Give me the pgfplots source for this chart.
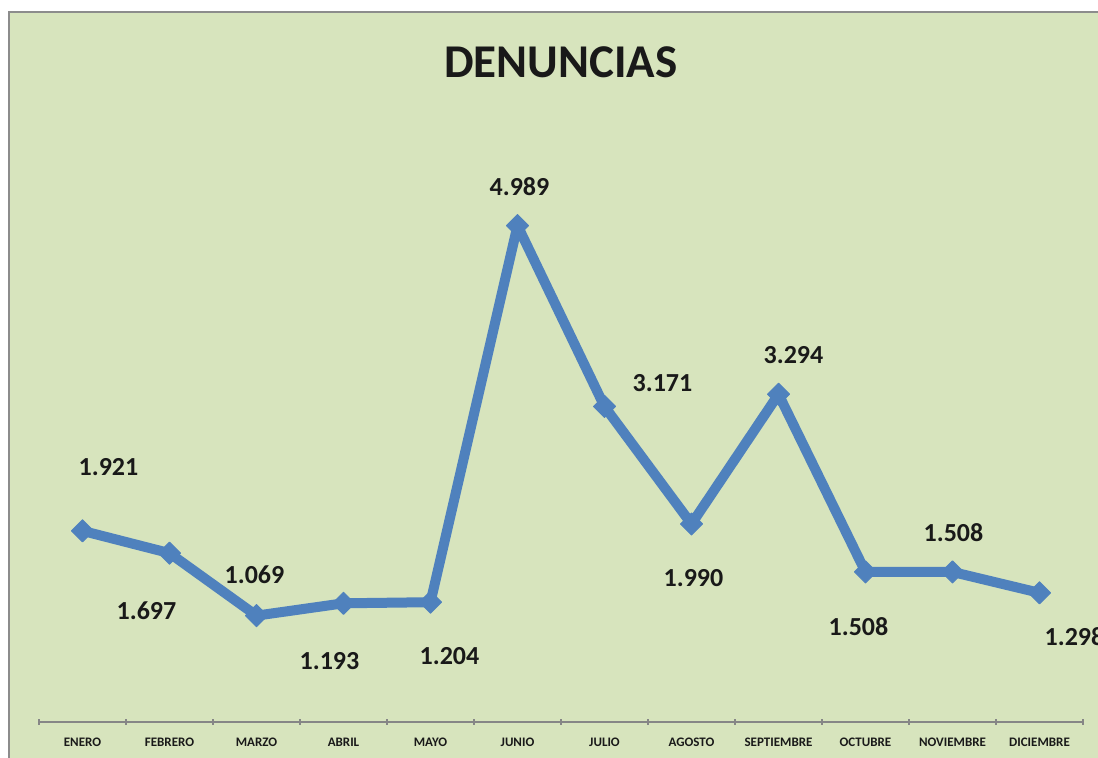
\documentclass[border=0pt]{standalone}
\usepackage{pgfplots}
\pgfplotsset{compat=1.18}
\usepackage{pgfplotstable}
\usepackage{fontspec}
\setmainfont{Carlito}
\definecolor{bgG}{RGB}{215,228,189}
\definecolor{frameG}{RGB}{140,140,140}
\definecolor{lineB}{RGB}{79,129,189}
\definecolor{axG}{RGB}{134,134,134}
\pgfplotstableread{
x y dx dy
0 1921 13 32
1 1697 -11.5 -29
2 1069 -1 20.5
3 1193 -7 -29
4 1204 9.5 -27
5 4989 1 19.5
6 3171 29 11.5
7 1990 1 -27
8 3294 7.5 19.5
9 1508 -3.5 -27.5
10 1508 0.5 19.5
11 1298 17.5 -22
}\datatable
\begin{document}
\begin{tikzpicture}
\clip (0,0) rectangle (549pt,-379pt);
\fill[white] (0,0) rectangle (549pt,-379pt);
\draw[frameG, line width=1pt, fill=bgG] (4.5pt,-6pt) rectangle (600pt,-420pt);
\begin{axis}[
  at={(19.5pt,-361pt)}, anchor=south west,
  scale only axis, width=522pt, height=298.5pt,
  xmin=-0.5, xmax=11.5, ymin=0, ymax=6000,
  axis x line=bottom, axis y line=none,
  x axis line style={-, draw=axG, line width=1pt},
  xtick={0,...,11},
  xticklabels={ENERO,FEBRERO,MARZO,ABRIL,MAYO,JUNIO,JULIO,AGOSTO,SEPTIEMBRE,OCTUBRE,NOVIEMBRE,DICIEMBRE},
  major tick length=0pt,
  xticklabel style={anchor=center, yshift=-10pt, font=\bfseries\fontsize{6.5}{7}\selectfont, text=black!90},
  extra x ticks={-0.5,0.5,...,11.5},
  extra x tick labels={},
  extra x tick style={major tick length=3pt, tick align=center, tick style={draw=axG, line width=0.6pt}},
  clip=false,
  title={DENUNCIAS},
  title style={at={(0.5,1)}, anchor=center, yshift=25.5pt, font=\bfseries\fontsize{23.5}{28}\selectfont, text=black!90},
]
\addplot[color=lineB, line width=5pt, line join=round,
  mark=square*, mark size=3.9pt, mark options={rotate=45, solid, line width=0.5pt, fill=lineB, draw=lineB},
  nodes near coords={\pgfmathprintnumber[assume math mode=true, 1000 sep={.}]{\pgfplotspointmeta}},
  visualization depends on={\thisrow{dx} \as \dx},
  visualization depends on={\thisrow{dy} \as \dy},
  every node near coord/.append style={anchor=center, xshift=\dx pt, yshift=\dy pt, font=\bfseries\fontsize{13}{15}\selectfont, text=black!90},
] table[x=x, y=y] {\datatable};
\end{axis}
\end{tikzpicture}
\end{document}
